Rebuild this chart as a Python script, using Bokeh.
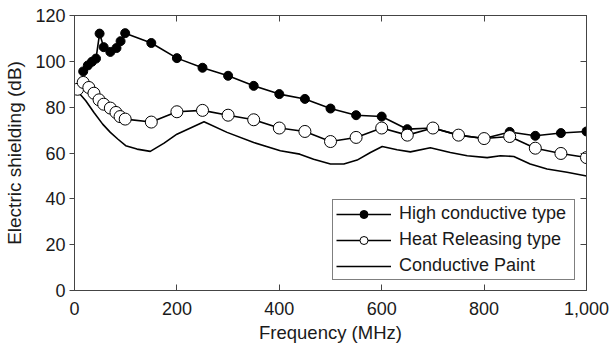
from bokeh.plotting import figure
from bokeh.models import (LinearAxis, Range1d, NumeralTickFormatter, FixedTicker,
                          Legend, LegendItem)
from bokeh.embed import file_html
from bokeh.resources import INLINE

# ---- data ----
high_freq = [17, 26, 34, 42, 49, 57, 70, 82, 90, 99, 150, 200, 250, 300, 350, 400,
             450, 500, 550, 600, 650, 700, 750, 800, 850, 900, 950, 1000]
high_vals = [95.6, 98.2, 99.8, 101.2, 112.1, 106.2, 104.1, 105.8, 108.8, 112.3, 108.0,
             101.4, 97.2, 93.7, 89.3, 85.7, 83.6, 79.4, 76.5, 75.9, 70.4, 70.9, 67.8,
             66.3, 69.2, 67.5, 68.7, 69.4]

heat_freq = [6, 17, 28, 38, 48, 57, 70, 81, 89, 99, 150, 200, 250, 300, 350, 400,
             450, 500, 550, 600, 650, 700, 750, 800, 850, 900, 950, 1000]
heat_vals = [87.8, 90.8, 88.6, 86.1, 83.2, 81.3, 79.6, 77.7, 75.9, 74.8, 73.5, 78.0,
             78.6, 76.5, 74.5, 70.9, 69.4, 65.0, 66.8, 70.9, 67.8, 70.9, 67.8, 66.3,
             67.2, 62.1, 59.8, 58.0]

paint_freq = [8, 22, 38, 55, 70, 85, 100, 122, 148, 175, 200, 253, 298, 350, 402, 440,
              467, 500, 526, 552, 578, 601, 630, 656, 695, 734, 767, 806, 832, 858,
              890, 923, 962, 1000]
paint_vals = [86.4, 82.8, 77.7, 72.6, 69.0, 66.0, 63.2, 61.7, 60.7, 64.3, 68.2, 73.6,
              69.0, 64.6, 61.0, 59.5, 57.3, 55.2, 55.2, 56.9, 60.2, 62.8, 61.4, 60.5,
              62.3, 60.2, 58.8, 58.0, 58.8, 58.5, 55.2, 53.0, 51.6, 50.0]

x_ticks = [0, 200, 400, 600, 800, 1000]
y_ticks = [0, 20, 40, 60, 80, 100, 120]

FONT = "Liberation Sans"
AXC = "#444444"
TXT = "#1a1a1a"

p = figure(width=612, height=346, output_backend="svg", toolbar_location=None,
           x_range=Range1d(0, 1000), y_range=Range1d(0, 120),
           min_border_left=74, min_border_right=26, min_border_top=15,
           min_border_bottom=56, background_fill_color="white",
           border_fill_color="white")
p.xgrid.visible = False
p.ygrid.visible = False
p.outline_line_color = AXC

xa = p.xaxis[0]
xa.ticker = FixedTicker(ticks=x_ticks)
xa.formatter = NumeralTickFormatter(format="0,0")
xa.major_tick_in = 6
xa.major_tick_out = 0
xa.minor_tick_line_color = None
xa.axis_line_color = AXC
xa.major_tick_line_color = AXC
xa.major_label_text_font = FONT
xa.major_label_text_font_size = "18px"
xa.major_label_text_color = TXT
xa.major_label_standoff = 11
xa.axis_label = "Frequency (MHz)"
xa.axis_label_text_font = FONT
xa.axis_label_text_font_size = "18.5px"
xa.axis_label_text_font_style = "normal"
xa.axis_label_text_color = TXT
xa.axis_label_standoff = 4

ya = p.yaxis[0]
ya.ticker = FixedTicker(ticks=y_ticks)
ya.major_tick_in = 0
ya.major_tick_out = 5
ya.minor_tick_line_color = None
ya.axis_line_color = AXC
ya.major_tick_line_color = AXC
ya.major_label_text_font = FONT
ya.major_label_text_font_size = "18px"
ya.major_label_text_color = TXT
ya.major_label_standoff = 4
ya.axis_label = "Electric shielding (dB)"
ya.axis_label_text_font = FONT
ya.axis_label_text_font_size = "19px"
ya.axis_label_text_font_style = "normal"
ya.axis_label_text_color = TXT
ya.axis_label_standoff = 7

top = LinearAxis(ticker=FixedTicker(ticks=x_ticks), major_tick_in=6, major_tick_out=0,
                 minor_tick_line_color=None, axis_line_color=AXC,
                 major_tick_line_color=AXC, major_label_text_font_size="1px",
                 major_label_text_color=None, major_label_standoff=0)
p.add_layout(top, "above")
right = LinearAxis(ticker=FixedTicker(ticks=y_ticks), major_tick_in=6, major_tick_out=0,
                   minor_tick_line_color=None, axis_line_color=AXC,
                   major_tick_line_color=AXC, major_label_text_font_size="1px",
                   major_label_text_color=None, major_label_standoff=0)
p.add_layout(right, "right")

# series
lp = p.line(paint_freq, paint_vals, line_color="black", line_width=1.6)
lh = p.line(high_freq, high_vals, line_color="black", line_width=1.6)
sh = p.scatter(high_freq, high_vals, marker="circle", size=9, fill_color="black",
               line_color="black")
lo = p.line(heat_freq, heat_vals, line_color="black", line_width=1.6)
so = p.scatter(heat_freq, heat_vals, marker="circle", size=12, fill_color="white",
               line_color="black", line_width=1)

legend = Legend(items=[
    LegendItem(label="High conductive type", renderers=[lh, sh]),
    LegendItem(label="Heat Releasing type", renderers=[lo, so]),
    LegendItem(label="Conductive Paint", renderers=[lp]),
], location=(258, 10), padding=3, spacing=5, margin=0,
    glyph_width=55, glyph_height=20, label_height=20, label_standoff=8,
    label_width=172,
    label_text_font=FONT, label_text_font_size="18px", label_text_color=TXT,
    border_line_color="black", border_line_width=1,
    background_fill_color="white", background_fill_alpha=1)
p.add_layout(legend)

open("out.html", "w").write(file_html(p, INLINE))
